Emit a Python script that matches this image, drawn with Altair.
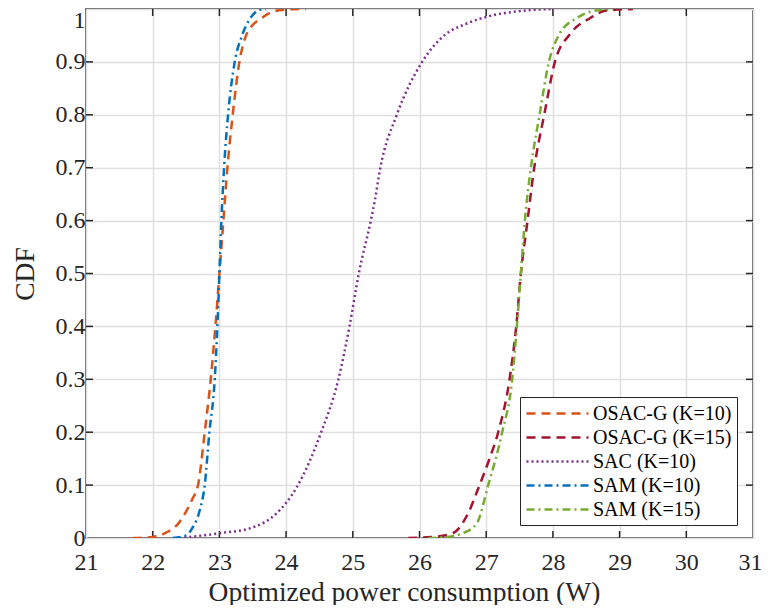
import altair as alt
import pandas as pd

# ---------------- data ----------------
series_names = ["OSAC-G (K=10)", "OSAC-G (K=15)", "SAC (K=10)", "SAM (K=10)", "SAM (K=15)"]

osacg10_x = [21.7, 22.0, 22.2, 22.4, 22.5, 22.6, 22.68, 22.78, 22.87, 22.94, 23.0, 23.06, 23.12, 23.2, 23.3, 23.4, 23.5, 23.6, 23.8, 24.0, 24.3]
osacg10_y = [0.0, 0.002, 0.01, 0.03, 0.05, 0.075, 0.1, 0.2, 0.3, 0.4, 0.5, 0.6, 0.7, 0.8, 0.9, 0.95, 0.97, 0.98, 0.995, 0.999, 1.0]

osacg15_x = [25.83, 26.2, 26.5, 26.73, 26.9, 27.05, 27.18, 27.35, 27.45, 27.52, 27.62, 27.72, 27.76, 27.87, 28.03, 28.26, 28.56, 28.8, 29.2]
osacg15_y = [0.0, 0.002, 0.009, 0.047, 0.1, 0.15, 0.2, 0.3, 0.4, 0.5, 0.6, 0.7, 0.73, 0.8, 0.9, 0.953, 0.983, 0.997, 1.0]

sac10_x = [22.4, 23.0, 23.5, 23.86, 24.16, 24.52, 24.78, 24.95, 25.09, 25.27, 25.33, 25.41, 25.66, 26.04, 26.4, 26.66, 27.06, 27.5, 28.0]
sac10_y = [0.0, 0.009, 0.02, 0.047, 0.096, 0.198, 0.298, 0.4, 0.5, 0.6, 0.638, 0.698, 0.8, 0.9, 0.953, 0.97, 0.987, 0.996, 1.0]

sam10_x = [22.3, 22.5, 22.6, 22.7, 22.78, 22.85, 22.93, 22.97, 23.0, 23.03, 23.07, 23.13, 23.23, 23.34, 23.45, 23.6, 23.7]
sam10_y = [0.0, 0.005, 0.02, 0.05, 0.1, 0.2, 0.3, 0.4, 0.5, 0.6, 0.7, 0.8, 0.9, 0.95, 0.98, 0.998, 1.0]

sam15_x = [26.13, 26.4, 26.65, 26.86, 27.03, 27.24, 27.39, 27.46, 27.52, 27.58, 27.67, 27.8, 27.94, 28.1, 28.36, 28.6, 28.9]
sam15_y = [0.0, 0.002, 0.009, 0.028, 0.1, 0.2, 0.3, 0.4, 0.5, 0.6, 0.7, 0.8, 0.9, 0.953, 0.983, 0.996, 1.0]

x_ticks = [21, 22, 23, 24, 25, 26, 27, 28, 29, 30, 31]
y_ticks = [0, 0.1, 0.2, 0.3, 0.4, 0.5, 0.6, 0.7, 0.8, 0.9, 1]

colors = ["#D95319", "#A2142F", "#7E2F8E", "#0072BD", "#77AC30"]
dashes = [[9, 6], [9, 6], [2, 3], [8, 4, 2, 4], [8, 4, 2, 4]]

# ---------------- build table ----------------
rows = []
for name, xs, ys in zip(
    series_names,
    [osacg10_x, osacg15_x, sac10_x, sam10_x, sam15_x],
    [osacg10_y, osacg15_y, sac10_y, sam10_y, sam15_y],
):
    for i, (a, b) in enumerate(zip(xs, ys)):
        rows.append({"series": name, "power": a, "cdf": b, "idx": i})
df = pd.DataFrame(rows)

W, H = 667, 529
FONT = "Liberation Serif"
AX = "#262626"

x_scale = alt.Scale(domain=[21, 31], nice=False, zero=False)
y_scale = alt.Scale(domain=[0, 1], nice=False, zero=False)

legend = alt.Legend(
    title=None,
    orient="none",
    legendX=434,
    legendY=388,
    symbolType="M-1,0L5.2,0",
    symbolSize=400,
    symbolStrokeWidth=2.5,
    labelFont=FONT,
    labelFontSize=20,
    labelColor="black",
    labelOffset=45,
    rowPadding=2,
    padding=5,
    strokeColor=AX,
    fillColor="white",
    labelLimit=300,
)

lines = (
    alt.Chart(df)
    .mark_line(strokeWidth=2.5, interpolate="monotone", clip=True)
    .encode(
        x=alt.X(
            "power:Q",
            scale=x_scale,
            axis=alt.Axis(
                title="Optimized power consumption (W)",
                values=x_ticks,
                format="d",
                ticks=False,
                domain=False,
                grid=True,
                labelFlush=False,
                labelPadding=12,
                labelOffset={"condition": {"test": "datum.value == 31", "value": -3}, "value": 0},
                titlePadding=4,
                titleX=318,
            ),
        ),
        y=alt.Y(
            "cdf:Q",
            scale=y_scale,
            axis=alt.Axis(
                title="CDF",
                values=y_ticks,
                format="~g",
                ticks=False,
                domain=False,
                grid=True,
                labelFlush=False,
                labelPadding=1,
                labelBaseline={"condition": {"test": "datum.value == 1", "value": "top"}, "value": "middle"},
                labelOffset={"condition": {"test": "datum.value == 1", "value": -1}, "value": 0},
                titlePadding=16,
            ),
        ),
        color=alt.Color("series:N", scale=alt.Scale(domain=series_names, range=colors), legend=legend),
        strokeDash=alt.StrokeDash("series:N", scale=alt.Scale(domain=series_names, range=dashes), legend=legend),
        order="idx:Q",
    )
)

xt = pd.DataFrame({"v": x_ticks[1:-1]})
yt = pd.DataFrame({"v": y_ticks[1:-1]})

tick_style = dict(color=AX, strokeWidth=1.5)
xb = alt.Chart(xt).mark_rule(**tick_style).encode(x=alt.X("v:Q", scale=x_scale), y=alt.value(H), y2=alt.value(H - 7))
xtop = alt.Chart(xt).mark_rule(**tick_style).encode(x=alt.X("v:Q", scale=x_scale), y=alt.value(0), y2=alt.value(7))
yl = alt.Chart(yt).mark_rule(**tick_style).encode(y=alt.Y("v:Q", scale=y_scale), x=alt.value(0), x2=alt.value(7))
yr = alt.Chart(yt).mark_rule(**tick_style).encode(y=alt.Y("v:Q", scale=y_scale), x=alt.value(W), x2=alt.value(W - 7))

chart = (
    alt.layer(xb, xtop, yl, yr, lines)
    .properties(
        width=W,
        height=H,
        autosize=alt.AutoSizeParams(type="none"),
        padding={"left": 78, "top": 1, "right": 9, "bottom": 67},
    )
    .configure(background="white", font=FONT)
    .configure_view(stroke=AX, strokeWidth=1.5)
    .configure_axis(
        labelFont=FONT,
        labelFontSize=24,
        labelColor=AX,
        titleFont=FONT,
        titleFontSize=27.5,
        titleFontWeight="normal",
        titleColor=AX,
        gridColor="#e0e0e0",
        gridWidth=1.5,
    )
    .configure_legend(labelFont=FONT, labelFontSize=20)
)

chart.save("out.html", embed_options={"renderer": "svg", "actions": False})
